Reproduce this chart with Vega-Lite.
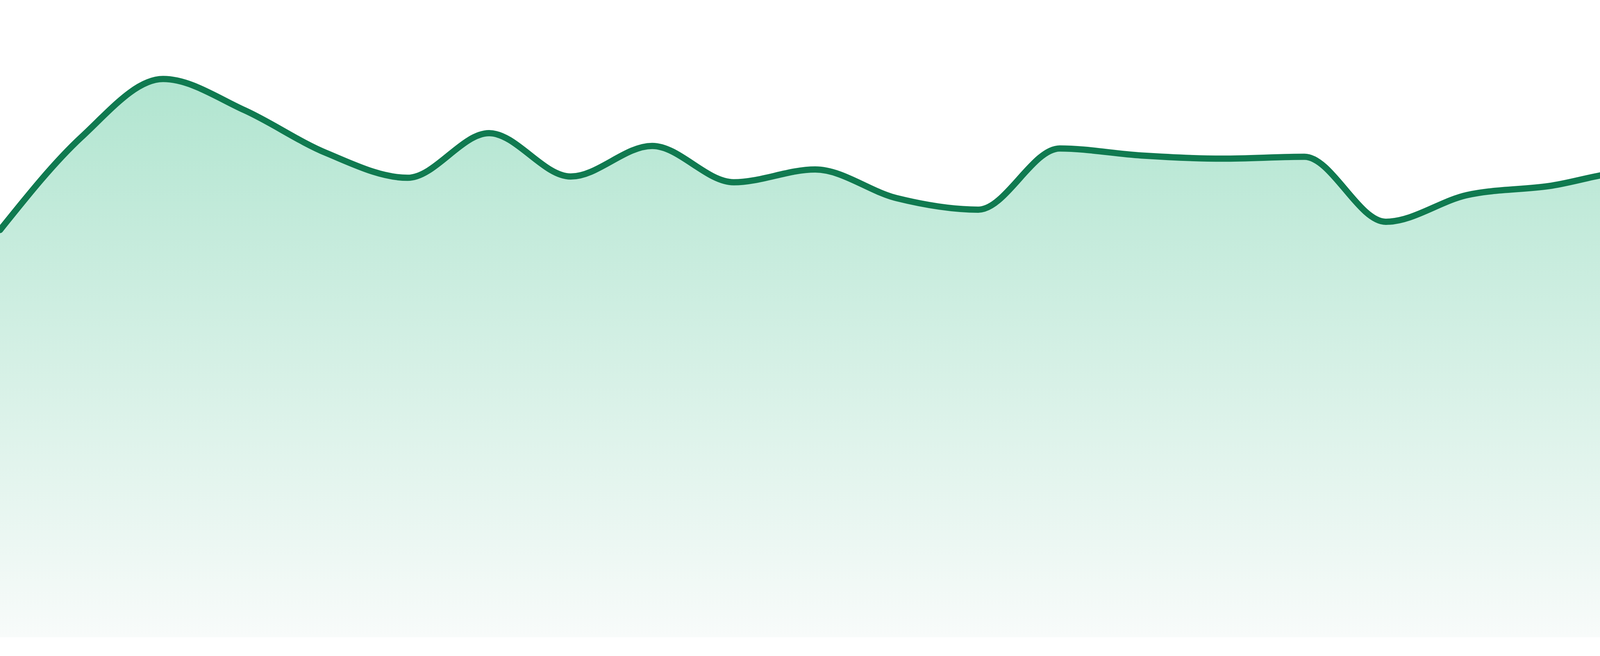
{
  "$schema": "https://vega.github.io/schema/vega-lite/v6.json",
  "width": 4800,
  "height": 1632,
  "padding": 0,
  "autosize": "none",
  "background": "#ffffff",
  "data": {
    "values": [
      {"i": 0, "v": 63.9},
      {"i": 1, "v": 78.5},
      {"i": 2, "v": 87.6},
      {"i": 3, "v": 82.7},
      {"i": 4, "v": 76.0},
      {"i": 5, "v": 72.1},
      {"i": 6, "v": 79.1},
      {"i": 7, "v": 72.3},
      {"i": 8, "v": 77.1},
      {"i": 9, "v": 71.4},
      {"i": 10, "v": 73.4},
      {"i": 11, "v": 68.9},
      {"i": 12, "v": 67.1},
      {"i": 13, "v": 76.7},
      {"i": 14, "v": 75.6},
      {"i": 15, "v": 75.1},
      {"i": 16, "v": 75.4},
      {"i": 17, "v": 65.2},
      {"i": 18, "v": 69.4},
      {"i": 19, "v": 70.8},
      {"i": 20, "v": 73.0},
      {"i": 21, "v": 70.8},
      {"i": 22, "v": 76.5},
      {"i": 23, "v": 76.3}
    ]
  },
  "mark": {
    "type": "area",
    "interpolate": "monotone",
    "opacity": 1,
    "fillOpacity": 1,
    "line": {"color": "#107a50", "strokeWidth": 16, "opacity": 1, "strokeCap": "round"},
    "color": {
      "gradient": "linear",
      "x1": 0, "y1": 0, "x2": 0, "y2": 1,
      "stops": [
        {"offset": 0, "color": "#b1e5d0"},
        {"offset": 1, "color": "#f8fbfa"}
      ]
    }
  },
  "encoding": {
    "x": {
      "field": "i",
      "type": "quantitative",
      "scale": {"domain": [0, 23], "nice": false, "zero": false},
      "axis": null
    },
    "y": {
      "field": "v",
      "type": "quantitative",
      "scale": {"domain": [0, 100], "nice": false},
      "axis": null
    }
  },
  "config": {
    "view": {"stroke": null}
  }
}
